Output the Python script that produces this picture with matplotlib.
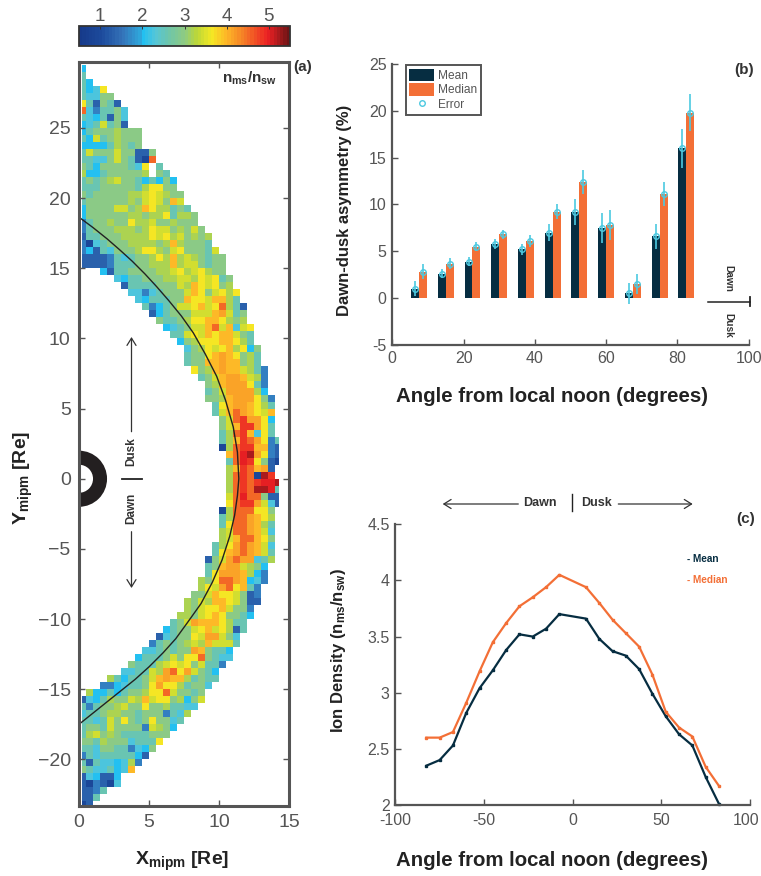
import matplotlib
matplotlib.use('Agg')
import matplotlib.pyplot as plt
import numpy as np
from matplotlib.colors import LinearSegmentedColormap
from matplotlib.patches import Wedge, FancyArrowPatch
from matplotlib.transforms import ScaledTranslation

plt.rcParams['font.family'] = ['Liberation Sans', 'DejaVu Sans']
plt.rcParams['axes.unicode_minus'] = False
plt.rcParams['mathtext.fontset'] = 'custom'
plt.rcParams['mathtext.rm'] = 'Liberation Sans:bold'
plt.rcParams['mathtext.bf'] = 'Liberation Sans:bold'
plt.rcParams['mathtext.default'] = 'bf'

# panel a: one string per row, top row is y 29..29.5, one letter per 0.5 Re bin
density_rows = [
    "c", "t", "tc", "tcay", "taagg", "ytbgtb", "Oasttga", "tactbga", "catktgb",
    "ctggglggg", "tcktglggg", "cccctlgtg", "tkgggkggbbg", "ttaagkgtbBO",
    "gtcggggtay.t", "lcctgggggl.gt", "tgtglkggtctcgc", "tttgggggtlyygg",
    "gtgggggllkyklgg", "tgggggglgkykguk", "cggggkkgluylltgt", "cggggggllgllytllg",
    "stgglggyllkgglggg", "stggglllglykkglgkg", "bttgggllllykylkglgl",
    "sBatgggllllglulgggt", "scbtaggglyylgkygggtk", "bbbbstatgglylulklgtgg",
    "bbbbstttgglllulkkgtgg", "...cbttggggllkylkylgg", ".....acttgggllkklykytg",
    "......bttttgggkluykygl", ".......aasatgggkuygkyly", "........actttgguyykuult",
    ".........tsctgkkyukyOltb", "..........bctgggkkkuoktg", "...........gttglyyuuylgl",
    "............catgkkuOkuaky", ".............ttkykuyuukgt", "..............cglyyyuuylt",
    "...............aglykyulycg", "...............tggyuouyglt", "...............tgguuouuglt",
    "................ygluouuklts", ".................tgkuooukls", "..................gluoooyts",
    "..................tgkoooolc", "..................ggluoooygs", "...................tyuoouylt",
    "...................tkuOouyku", "....................gkORooyc", "....................gkuRRoyt",
    "....................tlORuayt", "....................tluROoyst", "....................BlORRuusb",
    ".....................uOrdoysb", ".....................tOrRygbB", ".....................luROuob",
    ".....................lOROBdR", ".....................lORORrrd", ".....................lOROddrt",
    ".....................kOrOOgbb", ".....................yORRokab", "....................BlOOOyyg",
    "....................tlOOouyl", "....................tyOOoult", "....................lkOOouka",
    "....................lkuOOuyg", "...................tlyoOouka", "...................tyuoOoukt",
    "..................bgkoOooatl", "..................tguooklgc", "..................tyoooulcs",
    ".................lgyOOoucas", ".................lykoOyuts", "................ggkuyykgbs",
    "...............lgkluuykgbb", "...............lgkyyukggs", "..............llgkyuyggtc",
    ".............tgkouuuyltt", "............ctggkyukylbt", "...........batggykookga",
    "..........stgtglklukkkt", ".........aatgtggougttc", "........ctttgkgyyOgtaa",
    ".......gtttlkykygktts", "......aattkloOyokgtc", "....ltcttgkuouultgtt",
    "...sscattgyoyyltgga", ".lcctctgglyyOkggtg", "bactlggklukyyglcgk",
    "tstgglkggygglttaa", "attgllggtgggstal", "ttatkgygtgyggat",
    "tggtkggggsklgc", "tlkglgttttggg", "ggtlgggattty", "ttaggttsacg",
    "statttttcb", "tbtaacals", "gtaatcau", "bacbbc", "bBsbBa", "bbst", "bbt", "Bb",
]
level_values = {'B': 0.9, 'b': 1.3, 's': 1.6, 'c': 2.0, 'a': 2.25, 't': 2.55, 'g': 2.95, 'l': 3.2,
                'k': 3.42, 'y': 3.7, 'u': 3.95, 'o': 4.15, 'O': 4.5, 'R': 4.8, 'r': 5.0, 'd': 5.25}
boundary_x = [0.0, 1.0, 2.0, 2.92, 3.8, 4.7, 5.53, 6.4, 7.3, 8.15, 9.0, 9.82, 10.45, 11.0, 11.3, 11.4,
              11.3, 11.1, 10.75, 10.2, 9.5, 8.7, 7.7, 6.9, 6.0, 5.0, 4.0, 3.0, 2.0, 1.0, 0.0]
boundary_y = [18.64, 17.9, 17.1, 16.3, 15.5, 14.6, 13.7, 12.7, 11.6, 10.4, 8.9, 7.3, 5.6, 3.7, 1.9, 0.0,
              -1.2, -2.6, -4.1, -5.8, -7.4, -8.9, -10.3, -11.4, -12.4, -13.4, -14.3, -15.1, -15.9, -16.7, -17.5]

# panel b
angle_groups = [7.5, 15, 22.5, 30, 37.5, 45, 52.5, 60, 67.5, 75, 82.5]
asym_mean = [1.0, 2.6, 3.9, 5.8, 5.2, 7.0, 9.2, 7.5, 0.5, 6.6, 16.0]
asym_median = [2.8, 3.7, 5.5, 6.8, 6.1, 9.2, 12.4, 7.8, 1.5, 11.1, 19.8]
err_mean = [0.8, 0.5, 0.5, 0.5, 0.6, 0.9, 1.35, 1.6, 1.1, 1.3, 2.1]
err_median = [0.8, 0.55, 0.5, 0.5, 0.6, 0.8, 1.3, 1.6, 1.1, 1.3, 2.0]

# panel c
angles = [-82.5, -75, -67.5, -60, -52.5, -45, -37.5, -30, -22.5, -15, -7.5,
          7.5, 15, 22.5, 30, 37.5, 45, 52.5, 60, 67.5, 75, 82.5]
density_mean = [2.35, 2.40, 2.53, 2.82, 3.04, 3.20, 3.38, 3.52, 3.50, 3.57, 3.70,
                3.66, 3.48, 3.37, 3.33, 3.21, 2.99, 2.79, 2.63, 2.53, 2.25, 2.01]
density_median = [2.60, 2.60, 2.65, 2.91, 3.19, 3.45, 3.62, 3.77, 3.85, 3.94, 4.05,
                  3.94, 3.80, 3.65, 3.53, 3.41, 3.16, 2.83, 2.69, 2.61, 2.34, 2.17]

W, H = 761, 876
GREY = '#555555'
NAVY = '#062d41'
ORANGE = '#f36f36'
ERR = '#4cc9e0'


def fx(px):
    return px / W


def fy(py):
    return 1 - py / H


def add_axes(left, right, top, bottom):
    return fig.add_axes([fx(left), fy(bottom), (right - left) / W, (bottom - top) / H])


def style_axes(ax, lw=1.6):
    for s in ax.spines.values():
        s.set_linewidth(lw)
        s.set_color(GREY)
    ax.tick_params(direction='in', length=4, width=1.0, color=GREY, labelcolor=GREY, labelsize=11.5, pad=4)


def arrow(p0, p1):
    fig.add_artist(FancyArrowPatch(
        (fx(p0[0]), fy(p0[1])), (fx(p1[0]), fy(p1[1])), transform=fig.transFigure,
        arrowstyle='->,head_length=4,head_width=2.5', color='#333333', lw=0.9, mutation_scale=1.3,
        shrinkA=0, shrinkB=0))


def sep_line(px0, py0, px1, py1, lw=1.0):
    fig.add_artist(plt.Line2D([fx(px0), fx(px1)], [fy(py0), fy(py1)], color='#222222', lw=lw))


fig = plt.figure(figsize=(W / 100, H / 100), dpi=100)

# panel a
cmap = LinearSegmentedColormap.from_list('nms', [
    (0.0, '#163a8a'), (0.1, '#1c4a9c'), (0.2, '#3472b8'), (0.29, '#2fa8dc'), (0.3, '#22c0f2'),
    (0.36, '#55c6d8'), (0.42, '#6cc5ad'), (0.5, '#8ecb82'), (0.56, '#bcd738'), (0.63, '#f4e924'),
    (0.7, '#fdb827'), (0.78, '#f58026'), (0.9, '#ec2024'), (1.0, '#6e1416')], N=64)
n_cols = 29
grid = np.full((len(density_rows), n_cols), np.nan)
for i, row in enumerate(density_rows):
    for j, ch in enumerate(row[:n_cols]):
        if ch in level_values:
            grid[i, j] = level_values[ch]
x_edges = np.arange(n_cols + 1) * 0.5
x_edges[0] = 0.2
x_edges[-1] = 14.3
y_edges = 29.5 - np.arange(len(density_rows) + 1) * 0.5

ax_a = add_axes(79, 289.3, 62, 805.7)
mesh = ax_a.pcolormesh(x_edges, y_edges, grid, cmap=cmap, vmin=0.5, vmax=5.5, rasterized=True)
ax_a.plot(boundary_x, boundary_y, color='#222222', lw=1.0)
ax_a.add_patch(Wedge((0, 0), 2.0, -90, 90, width=1.0, color='#231f20', lw=0))
ax_a.set_xlim(0, 15)
ax_a.set_ylim(-23.3, 29.7)
ax_a.set_xticks([0, 5, 10, 15])
ax_a.set_yticks([-20, -15, -10, -5, 0, 5, 10, 15, 20, 25])
ax_a.set_yticklabels(['\u221220', '\u221215', '\u221210', '\u22125', '0', '5', '10', '15', '20', '25'])
style_axes(ax_a, lw=2.2)
ax_a.tick_params(top=True, right=True, labelsize=14, pad=6)
fig.text(fx(250), fy(78), r'n$_{ms}$/n$_{sw}$', ha='center', va='center', fontsize=11, weight='bold', color='#333333')
fig.text(fx(303), fy(67), '(a)', ha='center', va='center', fontsize=11, weight='bold', color='#333333')
fig.text(fx(182), fy(861), r'X$_{mipm}$ [Re]', ha='center', va='center', fontsize=14, weight='bold', color='#222222')
fig.text(fx(23), fy(478), r'Y$_{mipm}$ [Re]', ha='center', va='center', rotation=90, fontsize=14, weight='bold', color='#222222')
fig.text(fx(131.5), fy(452), 'Dusk', ha='center', va='center', rotation=90, fontsize=8.5, weight='bold', color='#333333')
fig.text(fx(131.5), fy(508), 'Dawn', ha='center', va='center', rotation=90, fontsize=8.5, weight='bold', color='#333333')
arrow((131.5, 431.7), (131.5, 337))
arrow((131.5, 531.7), (131.5, 588))
sep_line(121.7, 479.5, 141.7, 479.5, lw=1.3)

# colorbar
cax = add_axes(79, 290, 26, 46)
cb = fig.colorbar(mesh, cax=cax, orientation='horizontal', ticks=[1, 2, 3, 4, 5])
cax.xaxis.set_ticks_position('top')
cb.outline.set_linewidth(1.3)
cb.outline.set_edgecolor('#333333')
cax.tick_params(direction='in', length=2.5, width=0.7, color='#333333', labelcolor=GREY, labelsize=13.5, pad=1)

# panel b
ax_b = add_axes(392.3, 748.7, 64, 345)
x = np.array(angle_groups)
b1 = ax_b.bar(x - 1.1, asym_mean, width=2.25, color=NAVY, label='Mean')
b2 = ax_b.bar(x + 1.1, asym_median, width=2.25, color=ORANGE, label='Median')
ax_b.errorbar(x - 1.1, asym_mean, yerr=err_mean, fmt='none', ecolor=ERR, elinewidth=1.2)
ax_b.errorbar(x + 1.1, asym_median, yerr=err_median, fmt='none', ecolor=ERR, elinewidth=1.2)
pts, = ax_b.plot(np.r_[x - 1.1, x + 1.1], asym_mean + asym_median, 'o', mfc='none', mec=ERR, mew=1.0, ms=4, label='Error')
ax_b.plot([88.7, 100.4], [-0.36, -0.36], color='#222222', lw=1.1, clip_on=False)
ax_b.plot([100.4, 100.4], [-0.8, 0.08], color='#222222', lw=1.3, clip_on=False)
ax_b.set_xlim(0, 100)
ax_b.set_ylim(-5, 25)
ax_b.set_xticks([0, 20, 40, 60, 80, 100])
ax_b.set_yticks([-5, 0, 5, 10, 15, 20, 25])
style_axes(ax_b)
ax_b.spines['top'].set_visible(False)
ax_b.spines['right'].set_visible(False)
leg = ax_b.legend(handles=[b1, b2, pts], loc='upper left', bbox_to_anchor=(fx(405.5), fy(65)),
                  bbox_transform=fig.transFigure, borderaxespad=0, fontsize=8.6, frameon=True, fancybox=False,
                  edgecolor=GREY, framealpha=1, handlelength=2.1, handleheight=1.25, handletextpad=0.35,
                  labelspacing=0.1, borderpad=0.3, labelcolor=GREY)
leg.get_frame().set_linewidth(1.4)
fig.text(fx(744), fy(70), '(b)', ha='center', va='center', fontsize=11, weight='bold', color='#333333')
fig.text(fx(728), fy(278), 'Dawn', ha='center', va='center', rotation=-90, fontsize=7.3, weight='bold', color='#333333')
fig.text(fx(728), fy(325), 'Dusk', ha='center', va='center', rotation=-90, fontsize=7.3, weight='bold', color='#333333')
fig.text(fx(552), fy(396), 'Angle from local noon (degrees)', ha='center', va='center', fontsize=14.7, weight='bold', color='#222222')
fig.text(fx(344.5), fy(210), 'Dawn-dusk asymmetry (%)', ha='center', va='center', rotation=90, fontsize=12, weight='bold', color='#222222')

# panel c
ax_c = add_axes(395.3, 750, 524.3, 805)
ax_c.plot(angles, density_mean, '-s', color=NAVY, lw=1.6, ms=2, clip_on=False)
ax_c.plot(angles, density_median, '-s', color=ORANGE, lw=1.6, ms=2, clip_on=False)
ax_c.set_xlim(-100, 100)
ax_c.set_ylim(2, 4.5)
ax_c.set_xticks([-100, -50, 0, 50, 100])
ax_c.set_yticks([2, 2.5, 3, 3.5, 4, 4.5])
ax_c.set_yticklabels(['2', '2.5', '3', '3.5', '4', '4.5'])
style_axes(ax_c)
ax_c.tick_params(axis='x', pad=6)
ax_c.spines['top'].set_visible(False)
ax_c.spines['right'].set_visible(False)
# keep the last label inside the canvas
last = ax_c.get_xticklabels()[-1]
last.set_transform(last.get_transform() + ScaledTranslation(-3.5 / 100, 0, fig.dpi_scale_trans))
fig.text(fx(687), fy(559), '- Mean', ha='left', va='center', fontsize=7.2, weight='bold', color=NAVY)
fig.text(fx(687), fy(580), '- Median', ha='left', va='center', fontsize=7.2, weight='bold', color=ORANGE)
fig.text(fx(745.7), fy(519), '(c)', ha='center', va='center', fontsize=11, weight='bold', color='#333333')
fig.text(fx(540), fy(503), 'Dawn', ha='center', va='center', fontsize=9, weight='bold', color='#333333')
fig.text(fx(597), fy(503), 'Dusk', ha='center', va='center', fontsize=9, weight='bold', color='#333333')
arrow((518.3, 504), (442.7, 504))
arrow((618.3, 504), (692.7, 504))
sep_line(572.3, 494, 572.3, 511)
fig.text(fx(552.5), fy(860), 'Angle from local noon (degrees)', ha='center', va='center', fontsize=14.7, weight='bold', color='#222222')
fig.text(fx(338), fy(651), r'Ion Density (n$_{ms}$/n$_{sw}$)', ha='center', va='center', rotation=90, fontsize=12, weight='bold', color='#222222')

fig.savefig('out.png', dpi=100)
